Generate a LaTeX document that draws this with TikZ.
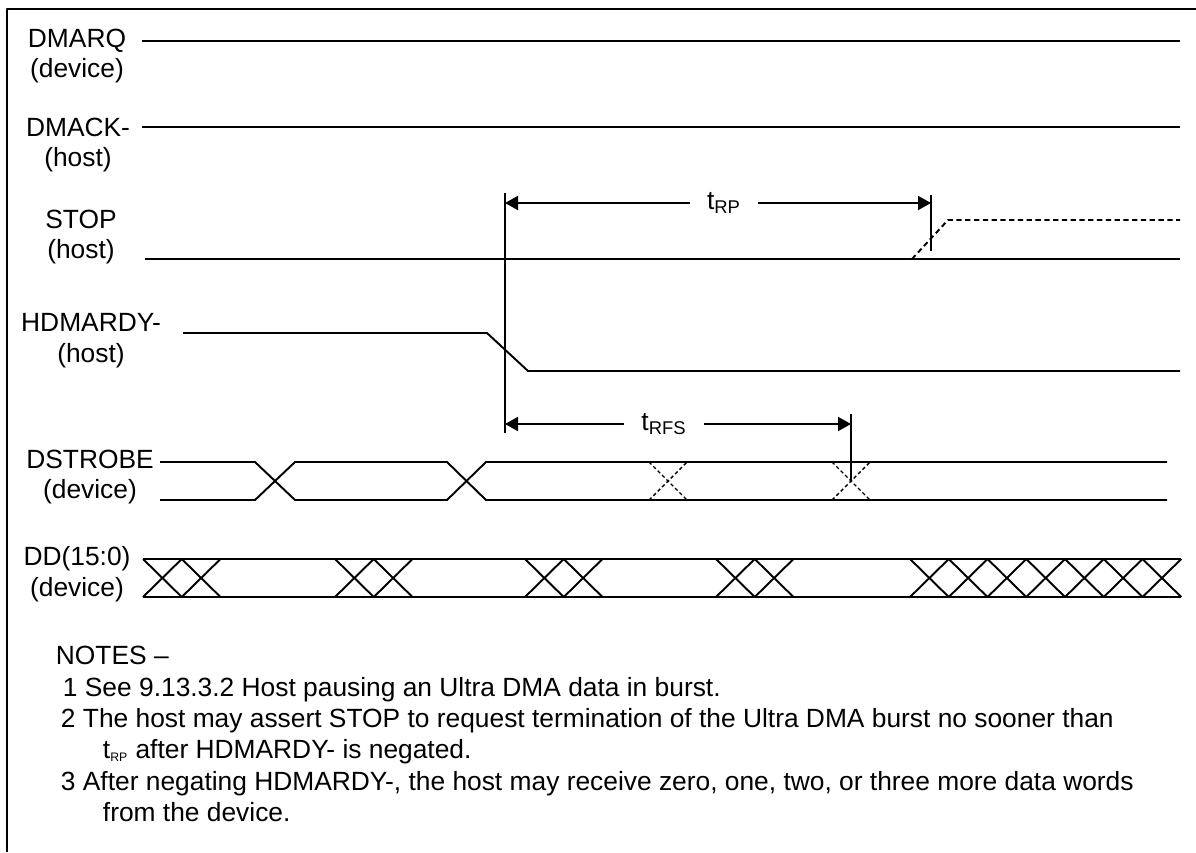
\documentclass[tikz,border=0pt]{standalone}
\usepackage{fontspec}
\setmainfont{Liberation Sans}
\usetikzlibrary{arrows.meta}

\begin{document}
\begin{tikzpicture}[x=0.02cm, y=-0.02cm, line width=1.1pt, line join=round,
    >={Triangle[length=2.6mm,width=2.8mm]},
    sig/.style={align=center, font=\fontsize{15}{17.5}\selectfont, inner sep=0pt},
    tlbl/.style={font=\fontsize{15}{17.5}\selectfont, inner xsep=0.32cm, inner ysep=0pt},
    note/.style={anchor=base west, font=\fontsize{15}{17.5}\selectfont, inner sep=0pt},
    fine/.style={line width=0.8pt, dash pattern=on 2pt off 1.5pt}]
    \def\w{38.75}
    \useasboundingbox (0,0) rectangle (1196,852);
    \draw[line width=1.4pt] (1196,9) -- (7,9) -- (7,852);
    % signal names
    \node[sig] (dmarq) at (77,56) {DMARQ\\(device)};
    \node[sig] (dmack) at (78,145) {DMACK-\\(host)};
    \node[sig] (stop) at (81,237) {STOP\\(host)};
    \node[sig] (hdmardy) at (91,341) {HDMARDY-\\(host)};
    \node[sig] (dstrobe) at (90,477) {DSTROBE\\(device)};
    \node[sig] (dd) at (77,574) {DD(15:0)\\(device)};
    % waveforms
    \draw (142,41) -- (1180,41);
    \draw (142,127) -- (1180,127);
    \draw (145,259) -- (1180,259);
    \draw[dash pattern=on 3pt off 2pt] (912,259) -- (948,220) -- (1180,220);
    \draw (183,333) -- (487,333) -- (528,371) -- (1180,371);
    \draw (160,462) -- (255,462) -- (295,500) -- (447,500) -- (486,462) -- (1167,462);
    \draw (160,500) -- (255,500) -- (295,462) -- (447,462) -- (486,500) -- (1167,500);
    \foreach \c in {668,851}
        \draw[fine] (\c-19,462) -- (\c+19,500) (\c-19,500) -- (\c+19,462);
    \draw (143,559) -- (1181,559) (143,597) -- (1181,597);
    \foreach \a/\n in {143/2,335/2,525/2,716/2,910/7}
        \foreach \k in {1,...,\n}
            \draw ({\a+(\k-1)*\w},559) -- ({\a+\k*\w},597) ({\a+(\k-1)*\w},597) -- ({\a+\k*\w},559);
    % timing
    \draw (505,193) -- (505,433);
    \draw (931,195) -- (931,251);
    \draw (851,414) -- (851,481);
    \coordinate (rpL) at (505,203);
    \coordinate (rpR) at (931,203);
    \coordinate (rfsL) at (505,424);
    \coordinate (rfsR) at (851,424);
    \node[tlbl] (trp) at (724,203) {t\textsubscript{RP}};
    \node[tlbl] (trfs) at (664,424) {t\textsubscript{RFS}};
    \draw[->] (trp.west) -- (rpL);
    \draw[->] (trp.east) -- (rpR);
    \draw[->] (trfs.west) -- (rfsL);
    \draw[->] (trfs.east) -- (rfsR);
    % notes
    \node[note] (notes) at (55,664) {NOTES –};
    \node[note] (n1) at (62,696) {1 See 9.13.3.2 Host pausing an Ultra DMA data in burst.};
    \node[note] (n2) at (60,727) {2 The host may assert STOP to request termination of the Ultra DMA burst no sooner than};
    \node[note] (n2b) at (102,758) {t\textsubscript{\fontsize{7}{7}\selectfont RP} after HDMARDY- is negated.};
    \node[note] (n3) at (60,790) {3 After negating HDMARDY-, the host may receive zero, one, two, or three more data words};
    \node[note] (n3b) at (102,821) {from the device.};
\end{tikzpicture}
\end{document}
